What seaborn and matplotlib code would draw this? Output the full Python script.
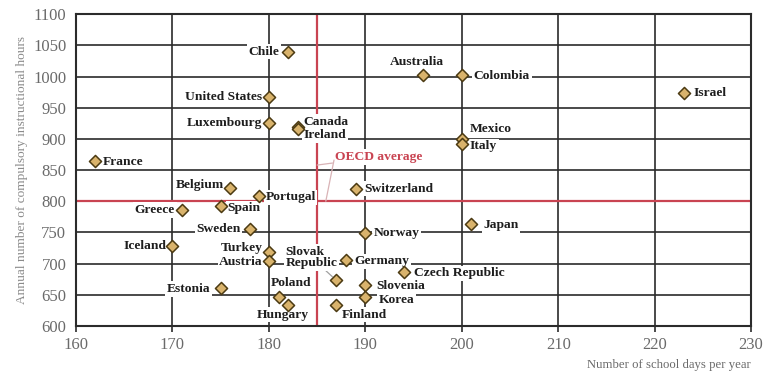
import matplotlib
matplotlib.use("Agg")
import matplotlib.pyplot as plt
import seaborn as sns
import pandas as pd

countries = ["Chile", "United States", "Luxembourg", "Canada", "Ireland", "Australia",
             "Colombia", "Israel", "Mexico", "Italy", "France", "Belgium", "Portugal",
             "Switzerland", "Greece", "Spain", "Sweden", "Iceland", "Turkey", "Austria",
             "Slovak\nRepublic", "Germany", "Norway", "Czech Republic", "Slovenia", "Korea",
             "Poland", "Hungary", "Finland", "Japan", "Estonia"]
days = [182, 180, 180, 183, 183, 196,
        200, 223, 200, 200, 162, 176, 179,
        189, 171, 175, 178, 170, 180, 180,
        187, 188, 190, 194, 190, 190,
        181, 182, 187, 201, 175]
hours = [1040, 967, 925, 919, 916, 1002,
         1002, 973, 900, 891, 865, 822, 808,
         820, 786, 792, 755, 728, 719, 704,
         673, 705, 749, 686, 665, 646,
         646, 634, 634, 763, 661]

oecd_days = 185
oecd_hours = 800
x_ticks = [160, 170, 180, 190, 200, 210, 220, 230]
y_ticks = [600, 650, 700, 750, 800, 850, 900, 950, 1000, 1050, 1100]

# label placement (offset in pixels from point, horizontal alignment)
label_pos = {
    "Chile": (-9, 0, "right"), "United States": (-7, 0, "right"),
    "Luxembourg": (-7, 0, "right"), "Canada": (6, 5, "left"), "Ireland": (6, -6, "left"),
    "Australia": (-6, 13, "center"), "Colombia": (12, -1, "left"), "Israel": (10, 0, "left"),
    "Mexico": (8, 10, "left"), "Italy": (8, -2, "left"), "France": (7, -1, "left"),
    "Belgium": (-6, 3, "right"), "Portugal": (6, -1, "left"), "Switzerland": (9, 0, "left"),
    "Greece": (-7, 0, "right"), "Spain": (7, -2, "left"), "Sweden": (-9, 0, "right"),
    "Iceland": (-6, 0, "right"), "Turkey": (-6, 4, "right"), "Austria": (-6, -1, "right"),
    "Slovak\nRepublic": (-51, 23, "left"), "Germany": (8, -1, "left"), "Norway": (8, 0, "left"),
    "Czech Republic": (10, -1, "left"), "Slovenia": (11, -1, "left"), "Korea": (13, -3, "left"),
    "Poland": (13, 14, "center"), "Hungary": (-5, -10, "center"), "Finland": (5, -10, "left"),
    "Japan": (12, -1, "left"), "Estonia": (-10, -1, "right"),
}

df = pd.DataFrame({"country": countries, "days": days, "hours": hours})

sns.set_theme(style="white")
plt.rcParams["font.family"] = ["Liberation Serif", "DejaVu Serif"]

fig = plt.figure(figsize=(7.68, 3.83), dpi=100)
ax = fig.add_axes([0.099, 0.149, 0.879, 0.814])

grid_c = "#2b2b2b"
ax.set_xlim(160, 230)
ax.set_ylim(600, 1100)
ax.set_xticks(x_ticks)
ax.set_yticks(y_ticks)
ax.grid(True, color=grid_c, linewidth=1.2, zorder=0)
ax.set_axisbelow(True)
for s in ax.spines.values():
    s.set_color(grid_c)
    s.set_linewidth(1.5)

red = "#c94452"
ax.axvline(oecd_days, color=red, linewidth=1.6, zorder=1)
ax.axhline(oecd_hours, color=red, linewidth=1.6, zorder=1)

sns.scatterplot(data=df, x="days", y="hours", marker="D", s=38,
                color="#d9b36c", edgecolor="#4b3a12", linewidth=1.1,
                ax=ax, zorder=5, legend=False)

for name, xv, yv in zip(countries, days, hours):
    dx, dy, ha = label_pos[name]
    kw = {}
    if name.startswith("Slovak"):
        kw["arrowprops"] = dict(arrowstyle="-", color="#a0a0a0", lw=0.9,
                                shrinkA=0, shrinkB=4)
    ax.annotate(name, (xv, yv), xytext=(dx, dy), textcoords="offset pixels",
                ha=ha, va="center", fontsize=9.7, fontweight="bold", color="#1e1e1e",
                linespacing=0.95,
                bbox=dict(boxstyle="square,pad=0.12", fc="white", ec="none"),
                zorder=3, **kw)

# OECD average label with leader lines
ax.annotate("OECD average", (185.0, 858), xytext=(186.9, 871), textcoords="data",
            ha="left", va="center", fontsize=9.7, fontweight="bold", color=red,
            bbox=dict(boxstyle="square,pad=0.12", fc="white", ec="none"),
            arrowprops=dict(arrowstyle="-", color="#d9b3b6", lw=0.9, shrinkA=1, shrinkB=0),
            zorder=3)
ax.annotate("", (185.9, 800), xytext=(186.75, 866), textcoords="data",
            arrowprops=dict(arrowstyle="-", color="#d9b3b6", lw=0.9, shrinkA=0, shrinkB=0),
            zorder=3)

ax.tick_params(axis="x", length=4, width=1.2, color=grid_c, labelsize=12,
               labelcolor="#6a6a6a", pad=4, bottom=True)
ax.tick_params(axis="y", length=0, labelsize=12, labelcolor="#6a6a6a", pad=7, left=True)

ax.set_xlabel("")
ax.set_ylabel("")
fig.text(0.029, 0.556, "Annual number of compulsory instructional hours", rotation=90,
         ha="center", va="center", fontsize=9.6, color="#8a8a8a")
fig.text(0.978, 0.047, "Number of school days per year", ha="right", va="center",
         fontsize=9.2, color="#6a6a6a")

fig.savefig("out.png", dpi=100)
